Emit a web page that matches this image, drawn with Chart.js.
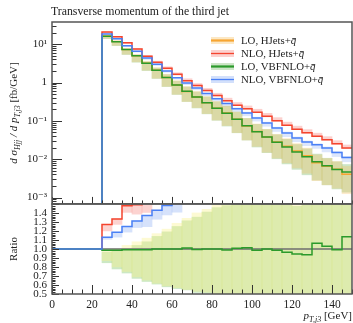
<!DOCTYPE html>
<html>
<head>
<meta charset="utf-8">
<script src="https://cdn.jsdelivr.net/npm/chart.js@4.4.0/dist/chart.umd.min.js"></script>
<style>
  html, body { margin: 0; padding: 0; background: #fff; }
  #wrap { position: relative; width: 353px; height: 323px; }
</style>
</head>
<body>
<div id="wrap"><canvas id="chart" width="353" height="323"></canvas></div>
<script>
// bins of 5 GeV, lower edges (last bin ends at 150)
var binEdges = [25, 30, 35, 40, 45, 50, 55, 60, 65, 70, 75, 80, 85, 90, 95, 100, 105, 110, 115, 120, 125, 130, 135, 140, 145];
var binEnd = 150;

// d sigma / d pT [fb/GeV]
var loHJets = [16.45, 11.78, 7.33, 5.03, 3.21, 2.09, 1.35, 0.869, 0.584, 0.419, 0.299, 0.215, 0.161, 0.110, 0.0739, 0.0528, 0.0380, 0.0281, 0.0217, 0.0164, 0.0123, 0.00809, 0.00650, 0.00545, 0.00405];
var nloHJets = [20.9, 15.7, 10.85, 7.5, 4.85, 3.38, 2.36, 1.64, 1.12, 0.832, 0.616, 0.456, 0.337, 0.257, 0.208, 0.169, 0.131, 0.101, 0.0772, 0.0607, 0.0492, 0.0398, 0.0323, 0.0254, 0.0196];
var loVBF = [16.2, 11.6, 7.26, 4.98, 3.18, 2.09, 1.35, 0.869, 0.590, 0.417, 0.299, 0.215, 0.159, 0.111, 0.0750, 0.0520, 0.0380, 0.0277, 0.0209, 0.0155, 0.0115, 0.0086, 0.0067, 0.0054, 0.0046];
var nloVBF = [18.6, 13.96, 9.16, 6.59, 4.40, 2.99, 2.0, 1.33, 0.98, 0.716, 0.514, 0.380, 0.282, 0.208, 0.161, 0.119, 0.0882, 0.0652, 0.0483, 0.0357, 0.0281, 0.0239, 0.0196, 0.0150, 0.0111];

// scale uncertainty bands, as factors of each curve's own value
var loHJetsDown = [0.87, 0.80, 0.75, 0.69, 0.655, 0.62, 0.59, 0.57, 0.55, 0.53, 0.52, 0.49, 0.47, 0.45, 0.43, 0.41, 0.40, 0.38, 0.37, 0.36, 0.35, 0.34, 0.33, 0.32, 0.31];
var loHJetsUp = [0.99, 1.0, 1.04, 1.08, 1.12, 1.17, 1.22, 1.285, 1.34, 1.40, 1.44, 1.49, 1.52, 1.54, 1.56, 1.57, 1.58, 1.58, 1.59, 1.56, 1.58, 1.6, 1.6, 1.6, 1.6];
var loVBFDown = [0.86, 0.79, 0.74, 0.68, 0.645, 0.61, 0.58, 0.56, 0.54, 0.52, 0.51, 0.48, 0.46, 0.44, 0.42, 0.40, 0.39, 0.37, 0.36, 0.35, 0.34, 0.33, 0.32, 0.31, 0.30];
var loVBFUp = [0.98, 0.99, 1.01, 1.05, 1.09, 1.14, 1.19, 1.25, 1.30, 1.36, 1.41, 1.46, 1.5, 1.53, 1.55, 1.56, 1.57, 1.57, 1.58, 1.56, 1.62, 1.58, 1.58, 1.58, 1.58];
var nloHJetsDown = [0.945, 0.955, 0.95, 0.93, 0.93, 0.94, 0.95, 0.95, 0.96, 0.96, 0.97, 0.97, 0.97, 0.97, 0.97, 0.97, 0.97, 0.97, 0.97, 0.97, 0.97, 0.97, 0.97, 0.97, 0.97];
var nloHJetsUp = [1.0, 1.0, 1.01, 1.03, 1.05, 1.07, 1.09, 1.1, 1.12, 1.13, 1.14, 1.15, 1.16, 1.17, 1.18, 1.19, 1.2, 1.2, 1.2, 1.2, 1.2, 1.2, 1.2, 1.2, 1.2];
var nloVBFDown = [0.98, 0.955, 0.95, 0.945, 0.91, 0.93, 0.93, 0.92, 0.9, 0.9, 0.88, 0.87, 0.86, 0.85, 0.84, 0.83, 0.82, 0.81, 0.8, 0.8, 0.8, 0.8, 0.79, 0.78, 0.77];
var nloVBFUp = [1.0, 1.0, 1.0, 1.0, 1.0, 1.0, 1.01, 1.02, 1.02, 1.03, 1.03, 1.04, 1.04, 1.05, 1.05, 1.05, 1.05, 1.05, 1.06, 1.06, 1.06, 1.06, 1.06, 1.06, 1.06];

var seriesNames = ['LO, HJets+', 'NLO, HJets+', 'LO, VBFNLO+', 'NLO, VBFNLO+'];
var titleText = 'Transverse momentum of the third jet';

// ticks
var xTickValues = [0, 20, 40, 60, 80, 100, 120, 140];
var yTickValues = [10, 1, 0.1, 0.01, 0.001];
var yTickLabels = ['10\u00b9', '1', '10\u207b\u00b9', '10\u207b\u00b2', '10\u207b\u00b3'];
var ratioTickValues = [1.4, 1.3, 1.2, 1.1, 1.0, 0.9, 0.8, 0.7, 0.6, 0.5];

var yMin = 6.8e-4, yMax = 38;
var serif = "'Liberation Serif', 'DejaVu Serif', serif";

var orange = '#f7a531', red = '#f4442e', green = '#2b9a2b', blue = '#4a80f5';

function stepLine(values, first) {
    var pts = [first];
    for (var i = 0; i < values.length; i++) {
        pts.push({x: binEdges[i], y: values[i]});
    }
    pts.push({x: binEnd, y: values[values.length - 1]});
    return pts;
}

function band(values, down, up, ref) {
    return values.map(function (v, i) {
        var r = ref ? ref[i] : 1;
        return {x: binEdges[i] + 2.5, y: [v * down[i] / r, v * up[i] / r]};
    });
}

function ratio(values) {
    return values.map(function (v, i) { return v / loHJets[i]; });
}

function lineSet(data, color, axis, order) {
    return {type: 'line', data: data, borderColor: color, borderWidth: 1.5, stepped: true,
        pointRadius: 0, fill: false, yAxisID: axis, order: order};
}

function bandSet(data, color, axis) {
    return {type: 'bar', data: data, backgroundColor: color, borderWidth: 0, grouped: false,
        barPercentage: 1, categoryPercentage: 1, yAxisID: axis, order: 20};
}

var datasets = [
    // top panel
    bandSet(band(loHJets, loHJetsDown, loHJetsUp), 'rgba(247,190,90,0.3)', 'y'),
    bandSet(band(loVBF, loVBFDown, loVBFUp), 'rgba(90,170,70,0.3)', 'y'),
    bandSet(band(nloHJets, nloHJetsDown, nloHJetsUp), 'rgba(244,90,80,0.28)', 'y'),
    bandSet(band(nloVBF, nloVBFDown, nloVBFUp), 'rgba(80,130,240,0.2)', 'y'),
    lineSet(stepLine(loHJets, {x: 25, y: yMin}), orange, 'y', 4),
    lineSet(stepLine(nloHJets, {x: 25, y: yMin}), red, 'y', 3),
    lineSet(stepLine(loVBF, {x: 25, y: yMin}), green, 'y', 2),
    lineSet(stepLine(nloVBF, {x: 25, y: yMin}), blue, 'y', 1),
    // ratio panel
    bandSet(band(loHJets, loHJetsDown, loHJetsUp, loHJets), 'rgba(250,242,140,0.38)', 'yr'),
    bandSet(band(loVBF, loVBFDown, loVBFUp, loHJets), 'rgba(120,195,100,0.38)', 'yr'),
    bandSet(band(nloHJets, nloHJetsDown, nloHJetsUp, loHJets), 'rgba(244,110,100,0.3)', 'yr'),
    bandSet(band(nloVBF, nloVBFDown, nloVBFUp, loHJets), 'rgba(90,140,240,0.25)', 'yr'),
    lineSet([{x: 0, y: 1}, {x: 150, y: 1}], '#6e6e6e', 'yr', 6),
    lineSet(stepLine(ratio(nloHJets), {x: 0, y: 1}), red, 'yr', 5),
    lineSet(stepLine(ratio(loVBF), {x: 0, y: 1}), green, 'yr', 4),
    lineSet(stepLine(ratio(nloVBF), {x: 0, y: 1}), blue, 'yr', 3)
];

function drawRuns(ctx, runs, x, y, align) {
    var total = 0;
    runs.forEach(function (r) { ctx.font = r.font; r.w = ctx.measureText(r.text).width; total += r.w; });
    var cx = align === 'right' ? x - total : (align === 'center' ? x - total / 2 : x);
    runs.forEach(function (r) {
        ctx.font = r.font;
        ctx.fillText(r.text, cx, y + (r.dy || 0));
        if (r.bar) {
            // bar over the q
            ctx.fillRect(cx + r.w * 0.25, y - 6, r.w * 0.7, 0.8);
        }
        cx += r.w;
    });
}

var decorations = {
    id: 'decorations',
    afterDraw: function (chart) {
        var ctx = chart.ctx;
        var sx = chart.scales.x, sy = chart.scales.y, sr = chart.scales.yr;
        var reg = '11px ' + serif, ita = 'italic 11px ' + serif, sub = 'italic 8px ' + serif;
        ctx.save();

        // inward ticks
        ctx.strokeStyle = '#333';
        ctx.lineWidth = 1;
        ctx.beginPath();
        for (var v = 0; v <= 150; v += 5) {
            var px = Math.round(sx.getPixelForValue(v)) + 0.5;
            var major = v % 20 === 0;
            ctx.moveTo(px, sy.bottom); ctx.lineTo(px, sy.bottom - (major ? 7 : 3.5));
            ctx.moveTo(px, sr.bottom); ctx.lineTo(px, sr.bottom - (major ? 9 : 4.5));
        }
        for (var e = -4; e <= 1; e++) {
            for (var m = 1; m <= 9; m++) {
                var val = m * Math.pow(10, e);
                if (val < yMin || val > yMax) continue;
                var py = Math.round(sy.getPixelForValue(val)) + 0.5;
                ctx.moveTo(sx.left, py); ctx.lineTo(sx.left + (m === 1 ? 10 : 4.5), py);
            }
        }
        for (var k = 0; k <= 50; k++) {
            var rv = 0.5 + k * 0.02;
            var ry = Math.round(sr.getPixelForValue(rv)) + 0.5;
            ctx.moveTo(sx.left, ry); ctx.lineTo(sx.left + (k % 5 === 0 ? 7 : 3.5), ry);
        }
        ctx.stroke();

        // panel frames
        ctx.strokeStyle = '#555';
        ctx.lineWidth = 1.5;
        ctx.strokeRect(sx.left, sy.top, sx.right - sx.left, sy.bottom - sy.top);
        ctx.strokeRect(sx.left, sr.top, sx.right - sx.left, sr.bottom - sr.top);

        ctx.fillStyle = '#222';
        ctx.textBaseline = 'alphabetic';
        ctx.textAlign = 'left';

        // title
        ctx.font = '11.8px ' + serif;
        ctx.fillText(titleText, sx.left - 1, 15);

        // x axis title
        drawRuns(ctx, [
            {text: 'p', font: ita},
            {text: 'T,j3', font: sub, dy: 3},
            {text: ' [GeV]', font: reg}
        ], sx.right, 319, 'right');

        // y axis titles
        ctx.save();
        ctx.translate(17, (sy.top + sy.bottom) / 2);
        ctx.rotate(-Math.PI / 2);
        drawRuns(ctx, [
            {text: 'd \u03c3', font: ita},
            {text: 'Hjj', font: sub, dy: 3},
            {text: ' / d ', font: ita},
            {text: 'p', font: ita},
            {text: 'T,j3', font: sub, dy: 3},
            {text: ' [fb/GeV]', font: reg}
        ], 0, 0, 'center');
        ctx.restore();

        ctx.save();
        ctx.translate(17, (sr.top + sr.bottom) / 2);
        ctx.rotate(-Math.PI / 2);
        ctx.font = reg;
        ctx.textAlign = 'center';
        ctx.fillText('Ratio', 0, 0);
        ctx.restore();

        // legend
        var colors = [orange, red, green, blue];
        var bands = ['rgba(247,190,90,0.35)', 'rgba(244,90,80,0.28)', 'rgba(90,170,70,0.3)', 'rgba(80,130,240,0.25)'];
        var widths = [2.2, 1.3, 2.2, 1.3];
        var lx = sx.left + 159, ty = sy.top + 18.5;
        for (var i = 0; i < seriesNames.length; i++) {
            var ly = ty + 13 * i;
            ctx.fillStyle = bands[i];
            ctx.fillRect(lx, ly - 3.5, 23, 7);
            ctx.strokeStyle = colors[i];
            ctx.lineWidth = widths[i];
            ctx.beginPath();
            ctx.moveTo(lx, ly); ctx.lineTo(lx + 23, ly);
            ctx.stroke();
            ctx.fillStyle = '#222';
            drawRuns(ctx, [
                {text: seriesNames[i], font: '10.8px ' + serif},
                {text: 'q', font: 'italic 10.8px ' + serif, bar: true}
            ], lx + 30, ly + 3.5, 'left');
        }
        ctx.restore();
    }
};

new Chart(document.getElementById('chart'), {
    type: 'line',
    data: {datasets: datasets},
    options: {
        responsive: false,
        animation: false,
        devicePixelRatio: 1,
        events: [],
        layout: {padding: {top: 22, right: 1, left: 0, bottom: 0}},
        plugins: {legend: {display: false}, tooltip: {enabled: false}, title: {display: false}},
        scales: {
            x: {
                type: 'linear', position: 'bottom', min: 0, max: 150, offset: false,
                grid: {display: false, drawTicks: false, offset: false}, border: {display: false},
                afterBuildTicks: function (s) { s.ticks = xTickValues.map(function (v) { return {value: v}; }); },
                afterFit: function (s) { s.height = 29; },
                ticks: {font: {family: serif, size: 11.5}, color: '#222', padding: 4, maxRotation: 0, autoSkip: false}
            },
            yr: {
                type: 'linear', position: 'left', stack: 'panels', stackWeight: 1, min: 0.5, max: 1.5,
                grid: {display: false, drawTicks: false}, border: {display: false},
                afterBuildTicks: function (s) { s.ticks = ratioTickValues.map(function (v) { return {value: v}; }); },
                afterFit: function (s) { s.width = 52; },
                ticks: {font: {family: serif, size: 11}, color: '#222', padding: 5, autoSkip: false,
                    callback: function (v) { return Number(v).toFixed(1); }}
            },
            y: {
                type: 'logarithmic', position: 'left', stack: 'panels', stackWeight: 2.02, min: yMin, max: yMax,
                grid: {display: false, drawTicks: false}, border: {display: false},
                afterBuildTicks: function (s) { s.ticks = yTickValues.map(function (v) { return {value: v}; }); },
                afterFit: function (s) { s.width = 52; },
                ticks: {font: {family: serif, size: 11}, color: '#222', padding: 5, autoSkip: false,
                    callback: function (v) { return yTickLabels[yTickValues.indexOf(v)]; }}
            }
        }
    },
    plugins: [decorations]
});
</script>
</body>
</html>
